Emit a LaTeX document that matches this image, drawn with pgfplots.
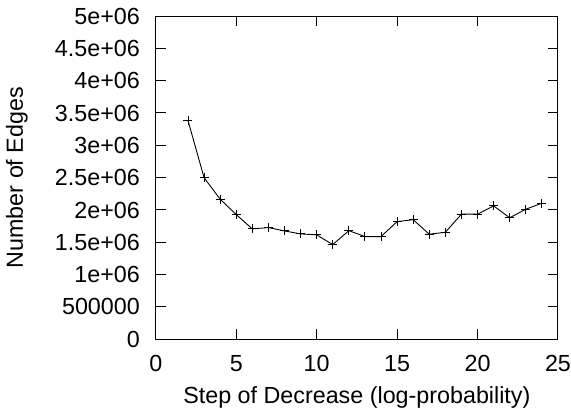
\documentclass[border=0pt]{standalone}
\usepackage{fontspec}
\setmainfont{Liberation Sans}
\usepackage{pgfplots}
\pgfplotsset{compat=1.18}
\begin{document}
\fontsize{23.3}{28}\selectfont
\begin{tikzpicture}[x=1pt,y=1pt]
\useasboundingbox (-155.8,-75.7) rectangle (415.2,339.3);
\begin{axis}[
  at={(0,0)}, anchor=origin,
  scale only axis,
  width=402.2pt, height=323.3pt,
  xmin=0, xmax=25, ymin=0, ymax=5000000,
  xtick={0,5,10,15,20,25},
  ytick={0,500000,1000000,1500000,2000000,2500000,3000000,3500000,4000000,4500000,5000000},
  yticklabels={0,500000,1e+06,1.5e+06,2e+06,2.5e+06,3e+06,3.5e+06,4e+06,4.5e+06,5e+06},
  scaled y ticks=false,
  /pgf/number format/assume math mode=true,
  tick align=inside,
  major tick length=10pt,
  tick style={line width=1pt, black},
  axis line style={line width=1pt},
  ticklabel style={font=\fontsize{23.3}{28}\selectfont},
  xticklabel style={yshift=-8pt},
  yticklabel style={xshift=-8pt},
  label style={font=\fontsize{23.3}{28}\selectfont},
  xlabel={Step of Decrease (log-probability)},
  ylabel={Number of Edges},
  xlabel style={at={(axis description cs:0.5,-0.18)}, anchor=center},
  ylabel style={at={(axis description cs:-0.3456,0.5)}, anchor=center},
  every axis plot/.append style={line width=0.9pt},
]
\addplot[black, mark=+, mark size=4.5pt, mark options={line width=0.9pt}] coordinates {
(2,3384000) (3,2500000) (4,2167000) (5,1929000) (6,1707000) (7,1728000)
(8,1676000) (9,1630000) (10,1615000) (11,1465000) (12,1680000) (13,1589000)
(14,1589000) (15,1820000) (16,1850000) (17,1625000) (18,1656000) (19,1935000)
(20,1935000) (21,2063000) (22,1880000) (23,2012000) (24,2105000)
};
\end{axis}
\end{tikzpicture}
\end{document}
